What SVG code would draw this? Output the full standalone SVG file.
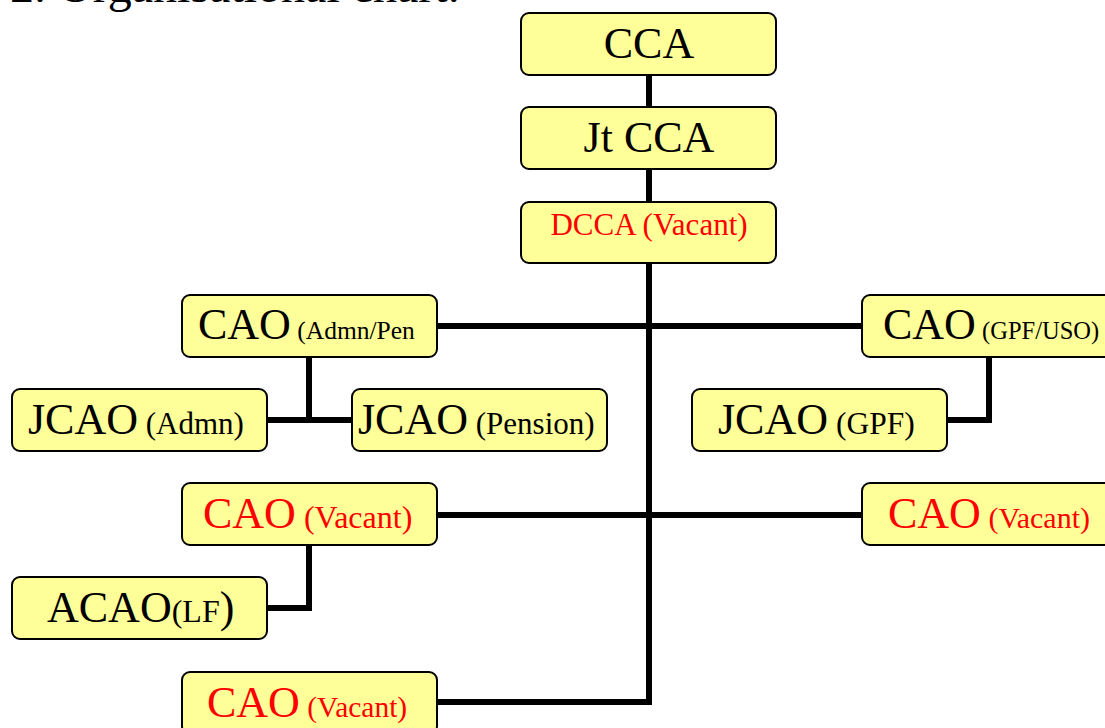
<svg xmlns="http://www.w3.org/2000/svg" width="1105" height="728" viewBox="0 0 1105 728">
<style>
.box{fill:#FFFF99;stroke:#000;stroke-width:2}
.ln{fill:none;stroke:#000;stroke-width:6;stroke-linejoin:miter}
text{font-family:"Liberation Serif","Times New Roman",serif;fill:#000}
.big{font-size:44px}
.red{fill:#FF0000}
</style>
<rect width="1105" height="728" fill="#fff"/>
<text x="10" y="2" style="font-size:48px">2. Organisational chart.</text>
<g id="connectors">
<path class="ln" d="M649,75 V702 H437"/>
<path class="ln" d="M437,326 H862"/>
<path class="ln" d="M437,515 H862"/>
<path class="ln" d="M309,357 V420 M267,420 H352"/>
<path class="ln" d="M989,357 V420 H947"/>
<path class="ln" d="M309,545 V608 H267"/>
</g>
<g id="cca"><rect class="box" x="521" y="13" width="255" height="62" rx="8"/><text class="big" x="649" y="58" text-anchor="middle">CCA</text></g>
<g id="jtcca"><rect class="box" x="521" y="107" width="255" height="62" rx="8"/><text class="big" x="649" y="152" text-anchor="middle">Jt CCA</text></g>
<g id="dcca"><rect class="box" x="521" y="202" width="255" height="61" rx="8"/><text class="red" x="649" y="235" text-anchor="middle" style="font-size:31px">DCCA (Vacant)</text></g>
<g id="cao-admn"><rect class="box" x="182" y="295" width="255" height="62" rx="8"/><text x="198" y="339"><tspan class="big">CAO</tspan><tspan style="font-size:25.5px"> (Admn/Pen</tspan></text></g>
<g id="cao-gpf"><rect class="box" x="862" y="295" width="255" height="62" rx="8"/><text x="883" y="339"><tspan class="big">CAO</tspan><tspan style="font-size:24.5px"> (GPF/USO)</tspan></text></g>
<g id="jcao-admn"><rect class="box" x="12" y="389" width="255" height="62" rx="8"/><text x="28" y="434"><tspan class="big">JCAO</tspan><tspan style="font-size:31px"> (Admn)</tspan></text></g>
<g id="jcao-pension"><rect class="box" x="352" y="389" width="255" height="62" rx="8"/><text x="358" y="434"><tspan class="big">JCAO</tspan><tspan style="font-size:31px"> (Pension)</tspan></text></g>
<g id="jcao-gpf"><rect class="box" x="692" y="389" width="255" height="62" rx="8"/><text x="718" y="434"><tspan class="big">JCAO</tspan><tspan style="font-size:31.5px"> (GPF)</tspan></text></g>
<g id="cao-vacant-1"><rect class="box" x="182" y="483" width="255" height="62" rx="8"/><text class="red" x="203" y="528"><tspan class="big">CAO</tspan><tspan style="font-size:32px"> (Vacant)</tspan></text></g>
<g id="cao-vacant-2"><rect class="box" x="862" y="483" width="255" height="62" rx="8"/><text class="red" x="888" y="528"><tspan class="big">CAO</tspan><tspan style="font-size:30px"> (Vacant)</tspan></text></g>
<g id="acao-lf"><rect class="box" x="12" y="577" width="255" height="62" rx="8"/><text x="47" y="622"><tspan class="big">ACAO</tspan><tspan style="font-size:32px">(LF</tspan><tspan class="big">)</tspan></text></g>
<g id="cao-vacant-3"><rect class="box" x="182" y="672" width="255" height="62" rx="8"/><text class="red" x="207" y="717"><tspan class="big">CAO</tspan><tspan style="font-size:29.5px"> (Vacant)</tspan></text></g>
</svg>
